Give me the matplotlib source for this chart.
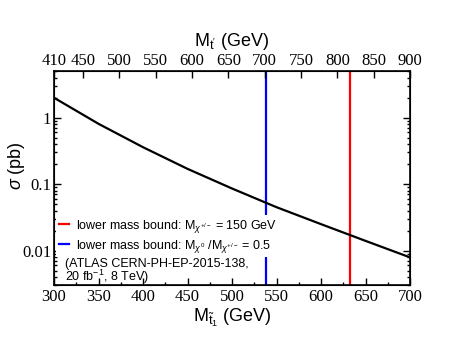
import matplotlib
matplotlib.use("Agg")
import matplotlib.pyplot as plt
from matplotlib.ticker import LogLocator, NullFormatter, FixedLocator, MultipleLocator, FuncFormatter

# Data
m_stop = [300, 350, 400, 450, 500, 550, 600, 650, 700]
sigma_pb = [2.0, 0.81, 0.36, 0.17, 0.086, 0.045, 0.025, 0.014, 0.0079]
bound_chargino = 633   # M_chi+/- = 150 GeV
bound_ratio = 538      # M_chi0/M_chi+/- = 0.5
top_ticks = [410, 450, 500, 550, 600, 650, 700, 750, 800, 850, 900]

plt.rcParams['mathtext.fontset'] = 'custom'
plt.rcParams['mathtext.rm'] = 'Liberation Sans'
plt.rcParams['mathtext.it'] = 'Liberation Sans:italic'
plt.rcParams['mathtext.sf'] = 'Liberation Sans'

fig = plt.figure(figsize=(4.64, 3.58), dpi=100)
ax = fig.add_axes([54/464, 1-285.3/358, (410-54)/464, (285.3-71.3)/358])

ax.plot(m_stop, sigma_pb, color='black', lw=1.6, zorder=3)
ax.axvline(bound_chargino, color='red', lw=1.6, zorder=2)
ax.axvline(bound_ratio, color='blue', lw=1.6, zorder=2)

ax.set_yscale('log')
ax.set_xlim(300, 700)
ax.set_ylim(0.003, 5)

labfont = {'family': 'Liberation Sans', 'size': 13}
TICKSIZE = 12

ax.xaxis.set_major_locator(MultipleLocator(50))
ax.xaxis.set_minor_locator(MultipleLocator(25))
ax.yaxis.set_major_locator(LogLocator(base=10, numticks=10))
ax.yaxis.set_minor_locator(LogLocator(base=10, subs=range(2, 10), numticks=20))
ax.yaxis.set_minor_formatter(NullFormatter())
ax.yaxis.set_major_formatter(FuncFormatter(lambda v, p: ('%g' % v)))

ax.tick_params(which='both', direction='in', right=True, top=False)
ax.tick_params(which='major', length=5, width=1)
ax.tick_params(which='minor', length=2.5, width=1)
for lab in ax.get_xticklabels() + ax.get_yticklabels():
    lab.set_fontfamily('Liberation Serif')
    lab.set_fontsize(TICKSIZE)
ax.tick_params(axis='x', pad=3)
ax.tick_params(axis='y', pad=2)
for s in ax.spines.values():
    s.set_linewidth(1.2)

ax.set_xlabel(r'M$_{\tilde{\mathrm{t}}_1}$ (GeV)', fontdict=labfont, labelpad=1)
ax.set_ylabel(r'$\sigma$ (pb)', fontdict=labfont)
ax.yaxis.set_label_coords(-0.075, 0.56)

ax2 = ax.twiny()
ax2.set_xlim(410, 900)
ax2.xaxis.set_major_locator(FixedLocator(top_ticks))
ax2.tick_params(which='both', direction='in', length=5, width=1, pad=1.5)
for lab in ax2.get_xticklabels():
    lab.set_fontfamily('Liberation Serif')
    lab.set_fontsize(TICKSIZE)
ax2.set_xlabel(r"M$_{\mathrm{t}'}$ (GeV)", fontdict=labfont, labelpad=5)

h1, = ax.plot([], [], color='red', lw=1.6)
h2, = ax.plot([], [], color='blue', lw=1.6)
leg = ax.legend([h1, h2],
                [r'lower mass bound: M$_{\chi^{+/-}}$ = 150 GeV',
                 r'lower mass bound: M$_{\chi^0}$ /M$_{\chi^{+/-}}$ = 0.5'],
                loc='upper left', bbox_to_anchor=(0.0, 0.34),
                frameon=True, fancybox=False, framealpha=1,
                facecolor='white', edgecolor='none',
                prop={'family': 'Liberation Sans', 'size': 9},
                handlelength=0.8, handletextpad=0.55, labelspacing=0.25,
                borderpad=0.2, borderaxespad=0.2)
leg.set_zorder(5)

ax.text(0.032, 0.062, '(ATLAS CERN-PH-EP-2015-138,\n20 fb$^{-1}$, 8 TeV)',
        transform=ax.transAxes, ha='left', va='center',
        fontfamily='Liberation Sans', fontsize=9, linespacing=0.85, zorder=6)

fig.savefig('out.png', dpi=100)
